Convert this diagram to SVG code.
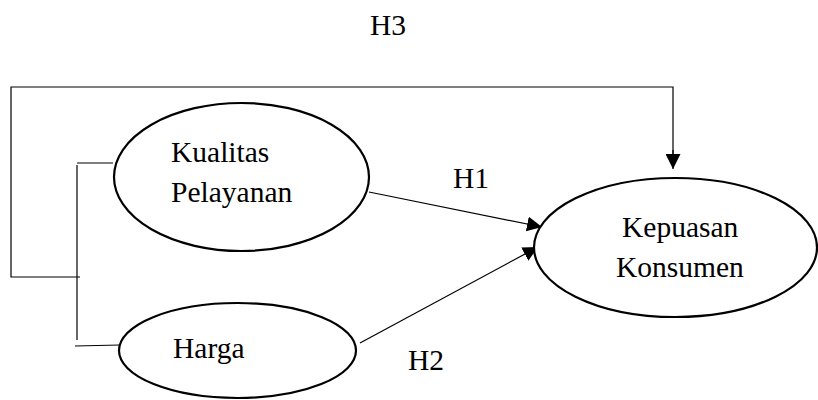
<svg xmlns="http://www.w3.org/2000/svg" width="818" height="400" viewBox="0 0 818 400">
<style>
.node{fill:#fff;stroke:#000;stroke-width:2.2}
.lbl{font-family:"Liberation Serif","Times New Roman",serif;font-size:29.5px;fill:#000}
.con{fill:none;stroke:#000;stroke-width:1.2}
</style>
<defs>
<marker id="ah" viewBox="0 0 10 10" refX="10" refY="5" markerWidth="15" markerHeight="15" markerUnits="userSpaceOnUse" orient="auto">
<path d="M0,0 L10,5 L0,10 Z" fill="#000"/>
</marker>
</defs>
<rect width="818" height="400" fill="#fff"/>
<g id="connectors">
<polyline class="con" points="80,277 11,277 11,87 673,87 673,155"/>
<line class="con" x1="673" y1="150" x2="673" y2="169" marker-end="url(#ah)"/>
<polyline class="con" points="113,163 77,163"/>
<line class="con" x1="77" y1="165" x2="77" y2="340"/>
<polyline class="con" points="75,346 120,345"/>
<line class="con" x1="369" y1="192" x2="542" y2="227" marker-end="url(#ah)"/>
<line class="con" x1="360" y1="343" x2="538" y2="247" marker-end="url(#ah)"/>
</g>
<g id="kualitas">
<ellipse class="node" cx="241.5" cy="177" rx="127.5" ry="74"/>
<text class="lbl" x="171" y="162">Kualitas</text>
<text class="lbl" x="171" y="202">Pelayanan</text>
</g>
<g id="harga">
<ellipse class="node" cx="237.5" cy="350.5" rx="118.5" ry="47.5"/>
<text class="lbl" x="173" y="358">Harga</text>
</g>
<g id="kepuasan">
<ellipse class="node" cx="675.5" cy="247.5" rx="141.5" ry="69.5"/>
<text class="lbl" x="622" y="237">Kepuasan</text>
<text class="lbl" x="616" y="277">Konsumen</text>
</g>
<g id="labels">
<text class="lbl" x="370" y="35">H3</text>
<text class="lbl" x="453" y="188">H1</text>
<text class="lbl" x="408" y="370">H2</text>
</g>
</svg>
